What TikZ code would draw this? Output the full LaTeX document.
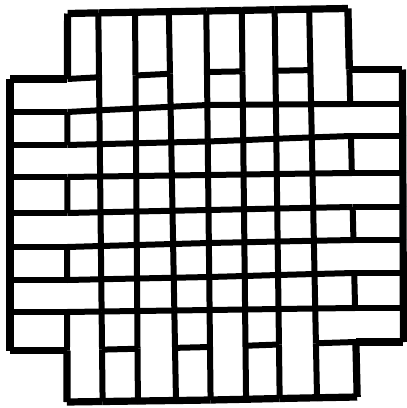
\documentclass[tikz,border=0pt]{standalone}
% x positions of vertical lines at top (y=75) and bottom (y=347)
\def\XT{{10,67.5,99,135.5,170,207,242.5,275.5,310.5,349.5,402.5}}
\def\XB{{10,67,102,137.5,175,210,245.5,279,316,356,403.5}}
% y positions of horizontal lines at left, centre and right
\def\YL{{13.5,79,112,145,177,213,247,280,312,350.5,402}}
\def\YM{{11,72,105,141.5,175,210,243,277,310,347,400}}
\def\YR{{8.5,69.5,104,136,173,207,240,273,308,342,397}}
% cell type: 0 empty, 1 weft (horizontal) on top, 2 warp (vertical) on top
\newcommand\wvtype[3]{%
  \pgfmathtruncatemacro#3{((#1<0)||(#1>9)||(#2<0)||(#2>9)) ? 0 : (((#1==0)||(#1==9)) ? (((#2==0)||(#2==9)) ? 0 : 1) : (((#2==0)||(#2==9)) ? 2 : ((mod(#1+#2,2)==0) ? 1 : 2)))}%
}
\begin{document}
\begin{tikzpicture}[x=1pt,y=1pt,line cap=square,
  innerline/.style={line width=6pt,black},
  outerline/.style={line width=7.2pt,black}]
\fill[white] (0,0) rectangle (407,-408);
\useasboundingbox (0,0) rectangle (407,-408);
% grid points
\foreach \v in {0,...,10}{
  \foreach \h in {0,...,10}{
    \pgfmathsetmacro\yy{(\v<=1) ? \YL[\h] : ((\v<=5) ? \YL[\h]+(\YM[\h]-\YL[\h])*(\v-1)/4 : ((\v<=9) ? \YM[\h]+(\YR[\h]-\YM[\h])*(\v-5)/4 : \YR[\h]))}
    \pgfmathsetmacro\xx{\XT[\v]+(\XB[\v]-\XT[\v])*(\yy-75)/272}
    \coordinate (p-\v-\h) at (\xx,-\yy);
  }
}
% vertical segments
\foreach \v in {0,...,10}{
  \foreach \j in {0,...,9}{
    \pgfmathtruncatemacro\ia{\v-1}
    \wvtype{\ia}{\j}{\ta}
    \wvtype{\v}{\j}{\tb}
    \pgfmathtruncatemacro\jnext{\j+1}
    \pgfmathtruncatemacro\dr{((\ta!=\tb)||(\ta==2)) ? 1 : 0}
    \pgfmathtruncatemacro\ou{((\ta==0)||(\tb==0)) ? 1 : 0}
    \ifnum\dr=1
      \ifnum\ou=1
        \draw[outerline] (p-\v-\j) -- (p-\v-\jnext);
      \else
        \draw[innerline] (p-\v-\j) -- (p-\v-\jnext);
      \fi
    \fi
  }
}
% horizontal segments
\foreach \h in {0,...,10}{
  \foreach \i in {0,...,9}{
    \pgfmathtruncatemacro\ja{\h-1}
    \wvtype{\i}{\ja}{\ta}
    \wvtype{\i}{\h}{\tb}
    \pgfmathtruncatemacro\inext{\i+1}
    \pgfmathtruncatemacro\dr{((\ta!=\tb)||(\ta==1)) ? 1 : 0}
    \pgfmathtruncatemacro\ou{((\ta==0)||(\tb==0)) ? 1 : 0}
    \ifnum\dr=1
      \ifnum\ou=1
        \draw[outerline] (p-\i-\h) -- (p-\inext-\h);
      \else
        \draw[innerline] (p-\i-\h) -- (p-\inext-\h);
      \fi
    \fi
  }
}
\end{tikzpicture}
\end{document}
